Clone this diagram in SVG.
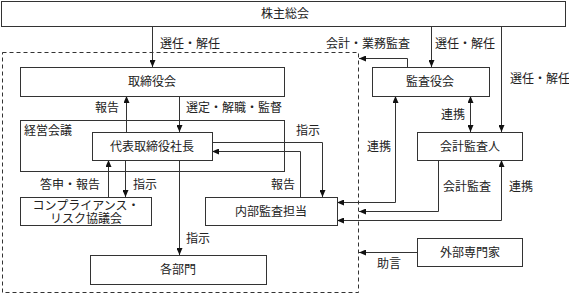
<svg xmlns="http://www.w3.org/2000/svg" width="569" height="295" viewBox="0 0 569 295">
<defs>
<marker id="ah" viewBox="0 0 7 6" refX="7" refY="3" markerWidth="7" markerHeight="6" markerUnits="userSpaceOnUse" orient="auto-start-reverse">
<path d="M0,0 L7,3 L0,6 Z" fill="#111"/>
</marker>
<style>
.box{fill:#fff;stroke:#333;stroke-width:1}
.grp{fill:none;stroke:#333;stroke-width:1}
.dash{fill:none;stroke:#333;stroke-width:1;stroke-dasharray:4,3}
.ln{fill:none;stroke:#333;stroke-width:1}
.a{marker-end:url(#ah)}
.b{marker-start:url(#ah);marker-end:url(#ah)}
text{font-family:"Liberation Serif","Noto Sans CJK JP",serif;font-size:12px;fill:#222}
.c{text-anchor:middle;dominant-baseline:central}
.l{dominant-baseline:central}
</style>
</defs>
<rect width="569" height="295" fill="#fff"/>
<g id="company-boundary">
<rect class="dash" x="2.5" y="52.5" width="356" height="240"/>
</g>
<g id="connectors">
<line class="ln a" x1="152.5" y1="26" x2="152.5" y2="67"/>
<line class="ln a" x1="431.5" y1="26" x2="431.5" y2="67"/>
<line class="ln a" x1="501.5" y1="26" x2="501.5" y2="132"/>
<polyline class="ln a" points="407.5,67 407.5,58.5 359,58.5"/>
<line class="ln b" x1="470.5" y1="96" x2="470.5" y2="132"/>
<line class="ln a" x1="126.5" y1="132" x2="126.5" y2="96"/>
<line class="ln a" x1="179.5" y1="96" x2="179.5" y2="132"/>
<line class="ln a" x1="108.5" y1="197" x2="108.5" y2="160"/>
<line class="ln a" x1="125.5" y1="160" x2="125.5" y2="197"/>
<line class="ln a" x1="179.5" y1="160" x2="179.5" y2="255"/>
<polyline class="ln a" points="212,142.5 322.5,142.5 322.5,197"/>
<polyline class="ln a" points="300.5,197 300.5,151.5 212,151.5"/>
<polyline class="ln b" points="395.5,96 395.5,202.5 337,202.5"/>
<polyline class="ln a" points="438.5,160 438.5,211.5 359,211.5"/>
<polyline class="ln b" points="501.5,160 501.5,220.5 337,220.5"/>
<line class="ln a" x1="417" y1="252.5" x2="359" y2="252.5"/>
</g>
<g id="labels">
<text class="l" x="160" y="44">選任・解任</text>
<text class="l" x="435" y="44">選任・解任</text>
<text class="l" x="510" y="79">選任・解任</text>
<text class="l" x="326" y="44">会計・業務監査</text>
<text class="l" x="441" y="115">連携</text>
<text class="l" x="95" y="108">報告</text>
<text class="l" x="186" y="108">選定・解職・監督</text>
<text class="l" x="296" y="131">指示</text>
<text class="l" x="271" y="185">報告</text>
<text class="l" x="40" y="185">答申・報告</text>
<text class="l" x="133" y="185">指示</text>
<text class="l" x="186" y="239">指示</text>
<text class="l" x="367" y="147">連携</text>
<text class="l" x="443" y="187">会計監査</text>
<text class="l" x="509" y="187">連携</text>
<text class="l" x="377" y="264">助言</text>
</g>
<g id="shareholders">
<rect class="box" x="1.5" y="1.5" width="564" height="25"/>
<text class="c" x="285" y="14">株主総会</text>
</g>
<g id="board">
<rect class="box" x="20.5" y="67.5" width="264" height="29"/>
<text class="c" x="152" y="82">取締役会</text>
</g>
<g id="management-meeting">
<rect class="grp" x="20.5" y="120.5" width="264" height="51"/>
<text class="l" x="24" y="131">経営会議</text>
</g>
<g id="president">
<rect class="box" x="92.5" y="132.5" width="120" height="28"/>
<text class="c" x="152" y="146.5">代表取締役社長</text>
</g>
<g id="compliance">
<rect class="box" x="20.5" y="197.5" width="131" height="28"/>
<text class="c" x="86" y="205.5">コンプライアンス・</text>
<text class="c" x="86" y="218.5">リスク協議会</text>
</g>
<g id="internal-audit">
<rect class="box" x="205.5" y="197.5" width="132" height="28"/>
<text class="c" x="271" y="211.5">内部監査担当</text>
</g>
<g id="departments">
<rect class="box" x="90.5" y="255.5" width="176" height="29"/>
<text class="c" x="178" y="270">各部門</text>
</g>
<g id="auditors-board">
<rect class="box" x="372.5" y="67.5" width="117" height="29"/>
<text class="c" x="430" y="82">監査役会</text>
</g>
<g id="accounting-auditor">
<rect class="box" x="417.5" y="132.5" width="105" height="28"/>
<text class="c" x="470" y="146.5">会計監査人</text>
</g>
<g id="external-experts">
<rect class="box" x="417.5" y="238.5" width="105" height="28"/>
<text class="c" x="470" y="252.5">外部専門家</text>
</g>
</svg>
